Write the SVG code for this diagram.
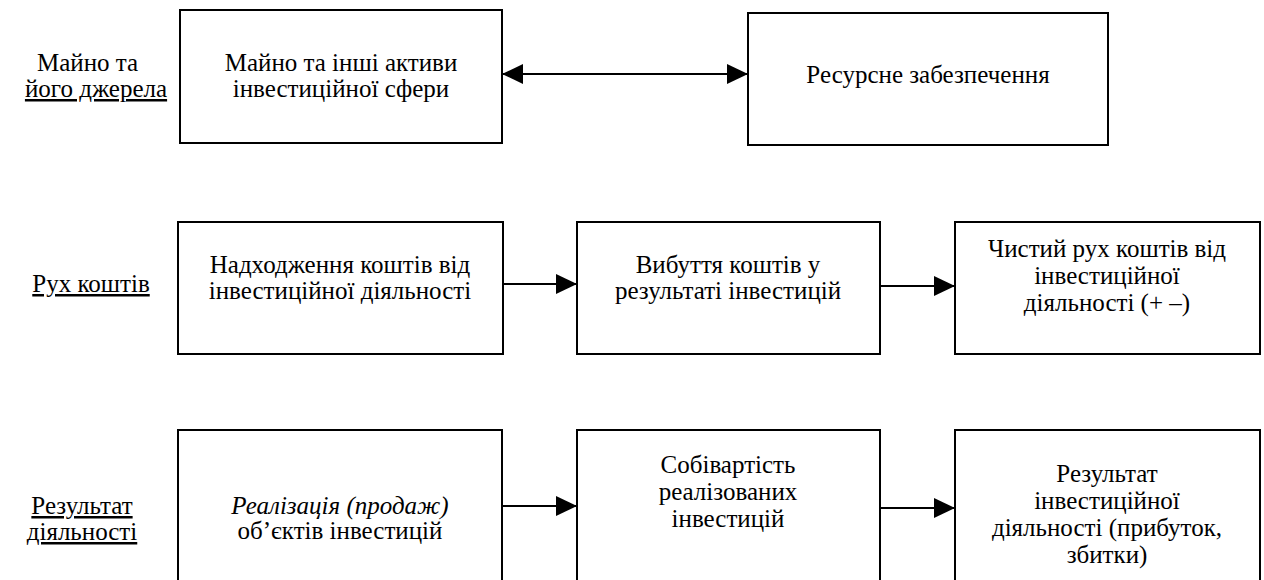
<svg xmlns="http://www.w3.org/2000/svg" width="1264" height="580" viewBox="0 0 1264 580">
  <style>
    text { font-family: "Liberation Serif", "Tinos", "Noto Serif", "FreeSerif", "DejaVu Serif", "Times New Roman", serif; font-size: 25px; fill: #000; }
    .c { text-anchor: middle; }
    .u { text-decoration: underline; }
    .box { fill: #fff; stroke: #000; stroke-width: 2; }
    .link { stroke: #000; stroke-width: 2; fill: none; }
  </style>
  <defs>
    <marker id="head" viewBox="0 0 21 20" refX="21" refY="10" markerWidth="21" markerHeight="20" markerUnits="userSpaceOnUse" orient="auto-start-reverse">
      <path d="M0,0 L21,10 L0,20 z" fill="#000"/>
    </marker>
  </defs>
  <rect width="1264" height="580" fill="#fff"/>

  <!-- row labels -->
  <g id="label-property">
    <text x="37" y="71">Майно та</text>
    <text class="c u" x="96" y="97">його джерела</text>
  </g>
  <g id="label-cashflow">
    <text class="c u" x="91" y="292">Рух коштів</text>
  </g>
  <g id="label-result">
    <text class="c u" x="82" y="514">Результат</text>
    <text class="c u" x="82" y="540">діяльності</text>
  </g>

  <!-- row 1 -->
  <g id="node-assets">
    <rect class="box" x="180" y="10" width="322" height="133"/>
    <text class="c" x="341" y="71">Майно та інші активи</text>
    <text class="c" x="341" y="97">інвестиційної сфери</text>
  </g>
  <g id="node-resources">
    <rect class="box" x="748" y="13" width="360" height="132"/>
    <text class="c" x="928" y="83">Ресурсне забезпечення</text>
  </g>

  <!-- row 2 -->
  <g id="node-inflow">
    <rect class="box" x="178" y="222" width="325" height="132"/>
    <text class="c" x="340" y="273">Надходження коштів від</text>
    <text class="c" x="340" y="299">інвестиційної діяльності</text>
  </g>
  <g id="node-outflow">
    <rect class="box" x="577" y="222" width="303" height="132"/>
    <text class="c" x="728" y="273">Вибуття коштів у</text>
    <text class="c" x="728" y="299">результаті інвестицій</text>
  </g>
  <g id="node-net">
    <rect class="box" x="955" y="222" width="305" height="132"/>
    <text class="c" x="1107" y="257">Чистий рух коштів від</text>
    <text class="c" x="1107" y="284">інвестиційної</text>
    <text class="c" x="1107" y="311">діяльності (+ –)</text>
  </g>

  <!-- row 3 -->
  <g id="node-sales">
    <rect class="box" x="178" y="430" width="324" height="170"/>
    <text class="c" x="340" y="514" font-style="italic">Реалізація (продаж)</text>
    <text class="c" x="340" y="539">об’єктів інвестицій</text>
  </g>
  <g id="node-cost">
    <rect class="box" x="577" y="430" width="303" height="170"/>
    <text class="c" x="728" y="473">Собівартість</text>
    <text class="c" x="728" y="500">реалізованих</text>
    <text class="c" x="728" y="527">інвестицій</text>
  </g>
  <g id="node-profit">
    <rect class="box" x="955" y="430" width="305" height="170"/>
    <text class="c" x="1107" y="482">Результат</text>
    <text class="c" x="1107" y="509">інвестиційної</text>
    <text class="c" x="1107" y="536">діяльності (прибуток,</text>
    <text class="c" x="1107" y="563">збитки)</text>
  </g>

  <!-- connectors -->
  <g id="connectors">
    <line class="link" x1="502" y1="74" x2="748" y2="74" marker-start="url(#head)" marker-end="url(#head)"/>
    <line class="link" x1="503" y1="284" x2="577" y2="284" marker-end="url(#head)"/>
    <line class="link" x1="880" y1="286" x2="955" y2="286" marker-end="url(#head)"/>
    <line class="link" x1="502" y1="506" x2="577" y2="506" marker-end="url(#head)"/>
    <line class="link" x1="880" y1="508" x2="955" y2="508" marker-end="url(#head)"/>
  </g>
</svg>
